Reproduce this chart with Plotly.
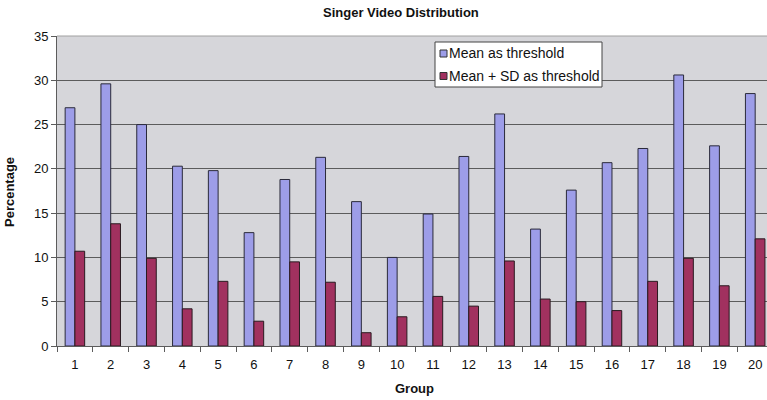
import plotly.graph_objects as go

groups = [str(i) for i in range(1, 21)]
mean_threshold = [26.9, 29.6, 25.0, 20.3, 19.8, 12.8, 18.8, 21.3, 16.3, 10.0,
                  14.9, 21.4, 26.2, 13.2, 17.6, 20.7, 22.3, 30.6, 22.6, 28.5]
mean_sd_threshold = [10.7, 13.8, 9.9, 4.2, 7.3, 2.8, 9.5, 7.2, 1.5, 3.3,
                     5.6, 4.5, 9.6, 5.3, 5.0, 4.0, 7.3, 9.9, 6.8, 12.1]
series_names = ["Mean as threshold", "Mean + SD as threshold"]
y_ticks = [0, 5, 10, 15, 20, 25, 30, 35]

FONT = "Liberation Sans, Arial, sans-serif"
GRID = "#5c5c5c"
BLUE = "#9d9de8"
PLUM = "#a1315f"

# plot area in pixels: x 57..767, y 36..346
L, R, T, B = 57, 767, 36, 346


def px_x(px):
    return (px - L) / (R - L)


def px_y(py):
    return (B - py) / (B - T)


fig = go.Figure()
fig.add_trace(go.Bar(
    x=groups, y=mean_threshold, name=series_names[0],
    marker=dict(color=BLUE, line=dict(color="#2a2a3a", width=1)),
))
fig.add_trace(go.Bar(
    x=groups, y=mean_sd_threshold, name=series_names[1],
    marker=dict(color=PLUM, line=dict(color="#2a1a20", width=1)),
))

# boxed legend in the upper middle of the plot
shapes = [
    dict(type="line", xref="paper", yref="paper", x0=0, x1=1, y0=1, y1=1,
         line=dict(color="#a0a0a0", width=1)),
    dict(type="rect", xref="paper", yref="paper",
         x0=px_x(435), x1=px_x(602), y0=px_y(87), y1=px_y(42),
         fillcolor="white", line=dict(color="#444", width=1), layer="above"),
]
annotations = []
for name, color, cy in zip(series_names, [BLUE, PLUM], [53.5, 76]):
    shapes.append(dict(type="rect", xref="paper", yref="paper",
                       x0=px_x(440), x1=px_x(447), y0=px_y(cy + 3.5), y1=px_y(cy - 3.5),
                       fillcolor=color, line=dict(color="#333", width=1), layer="above"))
    annotations.append(dict(text=name, xref="paper", yref="paper",
                            x=px_x(447), y=px_y(cy), xanchor="left", yanchor="middle",
                            showarrow=False, font=dict(size=14, family=FONT, color="#111")))

annotations += [
    dict(text="<b>Singer Video Distribution</b>", xref="paper", yref="paper",
         x=px_x(401), y=px_y(13), xanchor="center", yanchor="middle",
         showarrow=False, font=dict(size=13, family=FONT, color="#111")),
    dict(text="<b>Percentage</b>", xref="paper", yref="paper",
         x=px_x(10), y=px_y(192), xanchor="center", yanchor="middle", textangle=-90,
         showarrow=False, font=dict(size=13, family=FONT, color="#111")),
    dict(text="<b>Group</b>", xref="paper", yref="paper",
         x=px_x(414), y=px_y(388), xanchor="center", yanchor="middle",
         showarrow=False, font=dict(size=13, family=FONT, color="#111")),
]

fig.update_layout(
    width=767, height=400,
    margin=dict(l=L, r=767 - R, t=T, b=400 - B),
    paper_bgcolor="white",
    plot_bgcolor="#d6d6da",
    barmode="group", bargap=0.455, bargroupgap=0,
    font=dict(family=FONT, size=12, color="#111"),
    showlegend=False,
    xaxis=dict(
        type="category", range=[-0.5, 19.33],
        tickson="boundaries", ticks="outside", ticklen=5, tickcolor=GRID,
        ticklabelstandoff=6,
        showline=True, linecolor=GRID, linewidth=1,
        showgrid=False, tickfont=dict(size=13),
    ),
    yaxis=dict(
        range=[0, 35], tickvals=y_ticks, ticks="outside", ticklen=5,
        tickcolor=GRID, showline=True, linecolor=GRID, linewidth=1,
        showgrid=True, gridcolor=GRID, gridwidth=1, zeroline=False,
        tickfont=dict(size=13),
    ),
    shapes=shapes,
    annotations=annotations,
)

fig.write_html("out.html")
